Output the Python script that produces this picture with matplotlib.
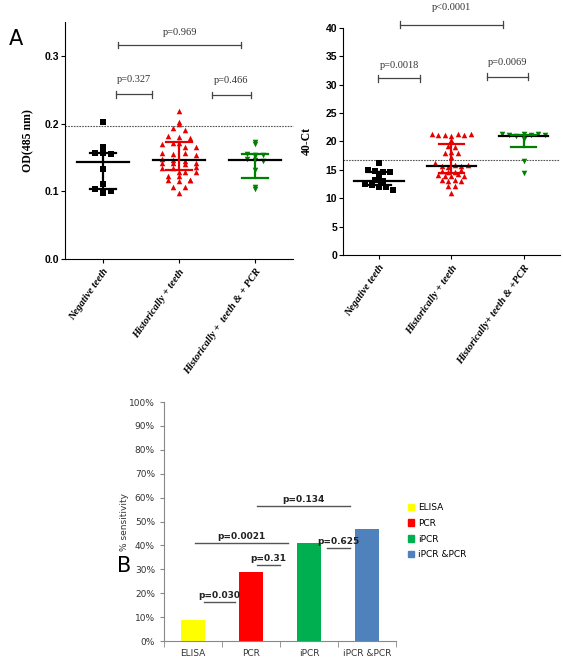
import numpy as np
import matplotlib
matplotlib.use("Agg")
import matplotlib.pyplot as plt
from matplotlib.patches import Patch

# ---- data ----
groups_a1 = ["Negative teeth", "Historically + teeth", "Historically +  teeth & + PCR"]
groups_a2 = ["Negative teeth", "Historically + teeth", "Historically+ teeth & +PCR"]

od_neg = [0.202, 0.166, 0.157, 0.156, 0.155, 0.133, 0.111, 0.103, 0.100, 0.098, 0.101]
od_hist = [0.218, 0.202, 0.199, 0.193, 0.190, 0.181, 0.180, 0.178, 0.172, 0.170,
           0.171, 0.165, 0.166, 0.156, 0.155, 0.157, 0.154, 0.147, 0.146, 0.145,
           0.141, 0.141, 0.140, 0.142, 0.136, 0.135, 0.134, 0.129, 0.129, 0.128,
           0.122, 0.122, 0.117, 0.116, 0.115, 0.116, 0.106, 0.106, 0.098]
od_pcr = [0.173, 0.170, 0.155, 0.154, 0.153, 0.152, 0.147, 0.146, 0.145, 0.132, 0.104, 0.107]
od_center = [0.143, 0.146, 0.146]
od_low = [0.103, 0.131, 0.119]
od_high = [0.157, 0.173, 0.155]
od_cutoff = 0.197

ct_neg = [16.2, 15.0, 14.8, 14.7, 14.6, 13.9, 13.2, 13.1, 12.5, 12.3, 12.0, 11.9, 11.5]
ct_hist = [21.4, 21.2, 21.1, 21.0, 21.3, 21.2, 21.4, 20.3, 19.2, 19.1, 18.0, 18.1,
           17.9, 17.2, 16.2, 15.7, 15.5, 15.8, 15.6, 15.9, 14.8, 14.6, 14.7, 14.9,
           14.1, 14.0, 13.9, 14.2, 14.0, 13.2, 13.1, 13.3, 13.0, 12.2, 12.1, 11.0]
ct_pcr = [21.3, 21.2, 21.0, 21.3, 21.1, 21.4, 21.2, 20.4, 16.6, 14.4]
ct_center = [13.0, 15.7, 21.0]
ct_low = [12.3, 14.5, 19.0]
ct_high = [14.7, 19.5, 21.2]
ct_cutoff = 16.8

# brackets: (x0, x1, y, label, text_y)
od_brackets = [(0.17, 0.65, 0.243, "p=0.327", 0.265),
               (1.43, 1.95, 0.242, "p=0.466", 0.264),
               (0.20, 1.82, 0.316, "p=0.969", 0.334)]
ct_brackets = [(-0.01, 0.57, 31.1, "p=0.0018", 33.4),
               (1.49, 2.06, 31.4, "p=0.0069", 33.9),
               (0.29, 1.71, 40.6, "p<0.0001", 43.6)]

methods = ["ELISA", "PCR", "iPCR", "iPCR &PCR"]
sensitivity = [9, 29, 41, 47]
bar_colors = ["#ffff00", "#ff0000", "#00b050", "#4f81bd"]
# (x0, x1, y, label)
b_lines = [(0.19, 0.72, 16.5, "p=0.030"),
           (1.10, 1.50, 32.0, "p=0.31"),
           (0.03, 1.64, 41.0, "p=0.0021"),
           (2.31, 2.71, 39.0, "p=0.625"),
           (1.10, 2.71, 56.5, "p=0.134")]

SERIF = "Liberation Serif"
NARROW = ["Liberation Sans Narrow", "Liberation Sans", "DejaVu Sans"]


def swarm_offsets(values, ybin, dx):
    vals = np.asarray(values)
    bins = np.round(vals / ybin).astype(int)
    offsets = np.zeros(len(vals))
    for b in np.unique(bins):
        idx = np.where(bins == b)[0]
        n = len(idx)
        offsets[idx] = (np.arange(n) - (n - 1) / 2) * dx
    return offsets


def scatter_panel(ax, data, centers, lows, highs, ybin, dxs, cap_w):
    colors = ["black", "#e60000", "#008000"]
    markers = ["s", "^", "v"]
    for i, vals in enumerate(data):
        off = swarm_offsets(vals, ybin, dxs[i])
        ax.scatter(i + off, vals, marker=markers[i], s=16, color=colors[i],
                   linewidths=0, zorder=3)
        ax.plot([i - 0.34, i + 0.34], [centers[i]] * 2, color="black", lw=1.6, zorder=4)
        ax.plot([i, i], [lows[i], highs[i]], color=colors[i], lw=1.6, zorder=4)
        for y in (lows[i], highs[i]):
            ax.plot([i - cap_w, i + cap_w], [y, y], color=colors[i], lw=1.6, zorder=4)


def brackets(ax, items, tick):
    for x0, x1, y, label, ty in items:
        ax.plot([x0, x1], [y, y], color="#444444", lw=0.9, clip_on=False)
        for x in (x0, x1):
            ax.plot([x, x], [y - tick, y + tick], color="#444444", lw=0.9, clip_on=False)
        ax.text((x0 + x1) / 2, ty, label, ha="center", va="center",
                family=SERIF, fontsize=7.5, color="#333333", clip_on=False)


def style_a(ax, labels):
    for s in ("top", "right"):
        ax.spines[s].set_visible(False)
    ax.set_xlim(-0.5, 2.5)
    ax.set_xticks(range(3))
    ax.set_xticklabels(labels, rotation=55, ha="right", va="top",
                       rotation_mode="anchor", family=SERIF, style="italic",
                       fontweight="bold", fontsize=7.5)
    ax.tick_params(axis="x", length=3, pad=3)
    ax.tick_params(axis="y", length=3, pad=1, labelsize=7.5)
    for t in ax.get_yticklabels():
        t.set_family(NARROW)
        t.set_fontweight("bold")


fig = plt.figure(figsize=(5.63, 6.62), dpi=100)

# ---- panel A left ----
ax1 = fig.add_axes([0.1155, 0.6088, 0.405, 0.358])
scatter_panel(ax1, [od_neg, od_hist, od_pcr], od_center, od_low, od_high,
              0.006, [0.1, 0.15, 0.1], 0.17)
ax1.axhline(od_cutoff, color="#555555", lw=0.8, ls=(0, (1.5, 1)), clip_on=False)
ax1.set_ylim(0, 0.35)
ax1.set_yticks([0.0, 0.1, 0.2, 0.3])
ax1.set_yticklabels(["0.0", "0.1", "0.2", "0.3"])
ax1.set_ylabel("OD(485 nm)", family=SERIF, fontweight="bold", fontsize=8.5, labelpad=8)
style_a(ax1, groups_a1)
brackets(ax1, od_brackets, 0.005)

# ---- panel A right ----
ax2 = fig.add_axes([0.609, 0.6148, 0.3854, 0.343])
scatter_panel(ax2, [ct_neg, ct_hist, ct_pcr], ct_center, ct_low, ct_high,
              1.0, [0.1, 0.09, 0.1], 0.17)
ax2.axhline(ct_cutoff, color="#555555", lw=0.8, ls=(0, (1.5, 1)))
ax2.set_ylim(0, 40)
ax2.set_yticks(range(0, 41, 5))
ax2.set_ylabel("40-Ct", family=SERIF, fontweight="bold", fontsize=8.5, labelpad=9)
style_a(ax2, groups_a2)
brackets(ax2, ct_brackets, 0.6)

fig.text(0.015, 0.932, "A", fontsize=15, family="DejaVu Sans")

# ---- panel B ----
ax3 = fig.add_axes([0.2913, 0.0317, 0.412, 0.361])
x = np.arange(len(methods))
ax3.bar(x, sensitivity, width=0.4, color=bar_colors, zorder=2)
ax3.set_xlim(-0.5, 3.5)
ax3.set_ylim(0, 100)
ax3.set_yticks(range(0, 101, 10))
ax3.set_yticklabels([f"{v}%" for v in range(0, 101, 10)])
ax3.set_xticks(x)
ax3.set_xticklabels(methods)
ax3.set_xticks(np.arange(-0.5, 4, 1), minor=True)
ax3.tick_params(axis="x", which="major", length=0, labelsize=6.5, pad=6, colors="#333333")
ax3.tick_params(axis="x", which="minor", length=4, color="#888888")
ax3.tick_params(axis="y", length=3, labelsize=6.5, color="#888888", labelcolor="#333333")
for s in ("top", "right"):
    ax3.spines[s].set_visible(False)
for s in ("left", "bottom"):
    ax3.spines[s].set_color("#888888")
ax3.set_ylabel("% sensitivity", fontsize=6.5, color="#333333")
ax3.yaxis.set_label_coords(-0.15, 0.5)

for x0, x1, y, label in b_lines:
    ax3.plot([x0, x1], [y, y], color="#555555", lw=1.0)
    ax3.text((x0 + x1) / 2, y + 0.8, label, ha="center", va="bottom",
             fontsize=6.5, fontweight="bold", color="#222222")

handles = [Patch(color=c) for c in bar_colors]
fig.legend(handles, methods, loc="upper left", bbox_to_anchor=(0.71, 0.2525),
           frameon=False, fontsize=6.5, handlelength=0.7, handleheight=0.7,
           handletextpad=0.4, labelspacing=0.75)

fig.text(0.207, 0.136, "B", fontsize=15, family="DejaVu Sans")

fig.savefig("out.png", dpi=100)
